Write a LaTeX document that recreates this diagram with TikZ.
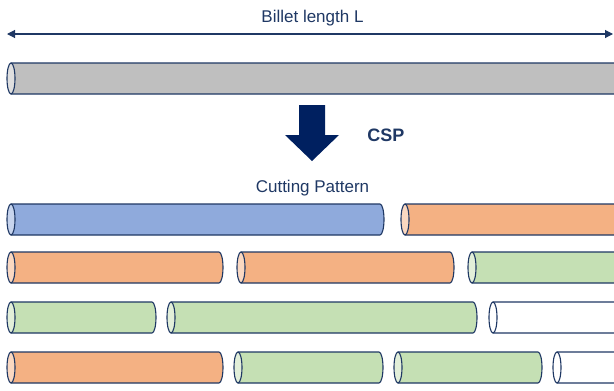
\documentclass[tikz,border=0pt]{standalone}
\usepackage{fontspec}
\setmainfont{Liberation Sans}
\usetikzlibrary{positioning,arrows.meta}
\definecolor{BilletNavy}{RGB}{31,56,100}
\definecolor{ArrowNavy}{RGB}{0,32,96}
\definecolor{BilletGrey}{RGB}{191,191,191}
\definecolor{PieceBlue}{RGB}{143,170,220}
\definecolor{PieceOrange}{RGB}{244,177,131}
\definecolor{PieceGreen}{RGB}{197,224,180}
\tikzset{
  barline/.style={draw=BilletNavy,line width=1.1pt,line join=round},
  dimline/.style={{Triangle[length=8pt,width=8pt]}-{Triangle[length=8pt,width=8pt]},
    line width=1.1pt,draw=BilletNavy},
  label/.style={text=BilletNavy,font=\fontsize{17}{20}\selectfont,inner sep=0pt}
}
% #1 name, #2 left x, #3 right x, #4 centre y, #5 colour
\newcommand{\billetbar}[5]{%
  \coordinate (#1) at ({(#2+#3)/2},#4);
  \path[barline,fill=#5] (#2+4,#4-15.5) -- (#3-4,#4-15.5)
    arc[start angle=-90,end angle=90,x radius=4,y radius=15.5]
    -- (#2+4,#4+15.5) -- cycle;
  \path[barline,fill=#5!50!white] (#2+4,#4) ellipse[x radius=4,y radius=15.5];
}
\begin{document}
\begin{tikzpicture}[x=1pt,y=-1pt]
  \useasboundingbox (0,0) rectangle (614,391);
  \clip (0,0) rectangle (614,391);
  % billet and its length
  \coordinate (lenL) at (7,34);
  \coordinate (lenR) at (613,34);
  \draw[dimline] (lenL) -- (lenR);
  \node[label,anchor=base] (lenlabel) at (312.5,22) {Billet length L};
  \billetbar{stock}{7}{700}{78.5}{BilletGrey}
  % CSP step
  \fill[ArrowNavy] (299,105) -- (325,105) -- (325,135) -- (339,135) -- (312,161)
    -- (285,135) -- (299,135) -- cycle;
  \node[label,anchor=base,font=\fontsize{18}{20}\selectfont\bfseries] (csp) at (386,141.5) {CSP};
  \node[label,anchor=base] (pattern) at (312.5,192.5) {Cutting Pattern};
  % row 1
  \billetbar{p11}{7}{384}{219.5}{PieceBlue}
  \billetbar{p12}{401}{700}{219.5}{PieceOrange}
  % row 2
  \billetbar{p21}{7}{223}{267.5}{PieceOrange}
  \billetbar{p22}{237}{454}{267.5}{PieceOrange}
  \billetbar{p23}{468}{700}{267.5}{PieceGreen}
  % row 3
  \billetbar{p31}{7}{156}{317.5}{PieceGreen}
  \billetbar{p32}{167}{477}{317.5}{PieceGreen}
  \billetbar{p33}{489}{700}{317.5}{white}
  % row 4
  \billetbar{p41}{7}{223}{367.5}{PieceOrange}
  \billetbar{p42}{234}{383}{367.5}{PieceGreen}
  \billetbar{p43}{394}{542}{367.5}{PieceGreen}
  \billetbar{p44}{553}{700}{367.5}{white}
\end{tikzpicture}
\end{document}
